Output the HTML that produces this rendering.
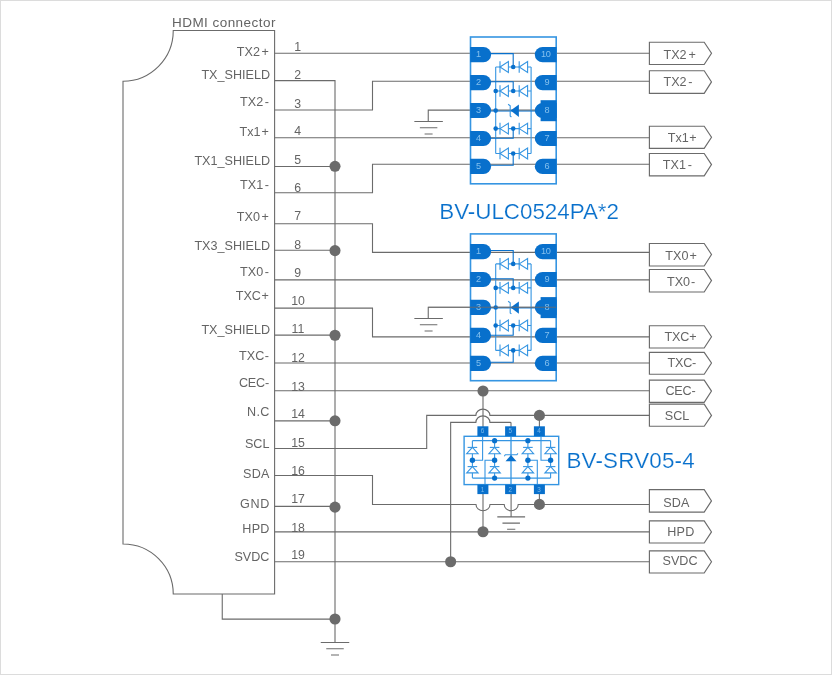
<!DOCTYPE html>
<html><head><meta charset="utf-8"><title>HDMI ESD protection</title>
<style>html,body{margin:0;padding:0;background:#fff}body{width:832px;height:675px;overflow:hidden;position:relative;font-family:"Liberation Sans",sans-serif}</style>
</head><body>
<svg width="832" height="675" viewBox="0 0 832 675" style="will-change:transform;position:absolute;left:0;top:0;font-family:'Liberation Sans',sans-serif">
<rect x="0" y="0" width="832" height="675" fill="#fff"/>
<rect x="0.5" y="0.5" width="831" height="674" fill="none" stroke="#dcdcdc" stroke-width="1"/>
<g fill="none" stroke="#6b6b6b" stroke-width="1.1" stroke-linejoin="miter">
<path d="M173.25,30.5 L274.6,30.5 L274.6,594 L173.25,594 A50.25,50 0 0 0 123,544 L123,81.25 A50.25,50.75 0 0 0 173.25,30.5 Z"/>
<path d="M222.25,594 L222.25,619.1 L335,619.1"/>
<path d="M274.6,80.6 L335,80.6 L335,642.5"/>
<path d="M320.75,642.5 H349.25 M326.25,648.75 H343.75 M331.0,655.0 H339.0"/>
<path d="M274.6,166.45 H335"/>
<path d="M274.6,250.3 H335"/>
<path d="M274.6,335.1 H335"/>
<path d="M274.6,420.9 H335"/>
<path d="M274.6,506.4 H335"/>
<path d="M274.6,53.2 H649.4"/>
<path d="M274.6,110 H372.5 V81.25 H649.4"/>
<path d="M274.6,137.7 H649.4"/>
<path d="M274.6,192.8 H372.5 V164.2 H649.4"/>
<path d="M556,110.1 H428.25 V121.5"/>
<path d="M414.35,121.5 H442.85 M419.85,127.75 H437.35 M424.6,134.0 H432.6"/>
<path d="M274.6,223.75 H372.5 V252.4 H649.4"/>
<path d="M274.6,279.9 H649.4"/>
<path d="M274.6,308.1 H372.5 V336.9 H649.4"/>
<path d="M274.6,363.05 H649.4"/>
<path d="M556,307.2 H428.25 V318.5"/>
<path d="M414.35,318.5 H442.85 M419.85,324.75 H437.35 M424.6,331.0 H432.6"/>
<path d="M274.6,390.8 H649.4"/>
<path d="M483,390.8 V427"/>
<path d="M274.6,448.5 H426.7 V415.35 L475.9,415.35 A7,6.2 0 0 1 489.9,415.35 H649.4"/>
<path d="M539.4,415.35 V427"/>
<path d="M450.65,561.75 V422.35 L475.9,422.35 A7,6.5 0 0 1 489.9,422.35 H510 Q511,422.25 511,423.25 V427"/>
<path d="M274.6,475.5 H372.5 V504.4 L476,504.45 A7,6.3 0 0 0 490,504.45 L504.2,504.45 A7,6.3 0 0 0 518.2,504.45 H649.4"/>
<path d="M539.4,494 V504.4"/>
<path d="M483,494 V531.9"/>
<path d="M511.1,494 V517"/>
<path d="M497.3,516.9 H525.1 M502.45,523.1 H519.95 M507.09999999999997,529.3 H515.3"/>
<path d="M274.6,531.9 H649.4"/>
<path d="M274.6,561.75 H649.4"/>
</g>
<g fill="#6b6b6b">
<circle cx="335" cy="166.3" r="5.55"/>
<circle cx="335" cy="250.6" r="5.55"/>
<circle cx="335" cy="335.25" r="5.55"/>
<circle cx="335" cy="420.8" r="5.55"/>
<circle cx="335" cy="507.1" r="5.55"/>
<circle cx="335" cy="619" r="5.55"/>
<circle cx="483" cy="391" r="5.55"/>
<circle cx="539.4" cy="415.4" r="5.55"/>
<circle cx="539.4" cy="504.4" r="5.55"/>
<circle cx="483" cy="531.75" r="5.55"/>
<circle cx="450.65" cy="561.75" r="5.55"/>
</g>
<g fill="#fff" stroke="#6b6b6b" stroke-width="1.15" stroke-linejoin="miter">
<path d="M649.4,42.25 H704.2 L711.5,53.25 L704.2,64.5 H649.4 Z"/>
<path d="M649.4,70.75 H704.2 L711.5,81.9 L704.2,93.4 H649.4 Z"/>
<path d="M649.4,126.25 H704.2 L711.5,137.25 L704.2,148.4 H649.4 Z"/>
<path d="M649.4,153.5 H704.2 L711.5,164.6 L704.2,175.9 H649.4 Z"/>
<path d="M649.4,243.5 H704.2 L711.5,254.5 L704.2,266 H649.4 Z"/>
<path d="M649.4,269.5 H704.2 L711.5,280.6 L704.2,292 H649.4 Z"/>
<path d="M649.4,325.75 H704.2 L711.5,336.75 L704.2,348 H649.4 Z"/>
<path d="M649.4,352.4 H704.2 L711.5,363 L704.2,374.25 H649.4 Z"/>
<path d="M649.4,380.1 H704.2 L711.5,391.1 L704.2,402.3 H649.4 Z"/>
<path d="M649.4,404.1 H704.2 L711.5,415.4 L704.2,426.25 H649.4 Z"/>
<path d="M649.4,489.6 H704.2 L711.5,500.9 L704.2,512.1 H649.4 Z"/>
<path d="M649.4,520.9 H704.2 L711.5,531.9 L704.2,543 H649.4 Z"/>
<path d="M649.4,550.9 H704.2 L711.5,561.75 L704.2,573 H649.4 Z"/>
</g>
<g fill="#646464" font-size="12.6px">
<text x="663.50" y="59.1">TX2<tspan dx="1.8">+</tspan></text>
<text x="663.50" y="86">TX2<tspan dx="1.6">-</tspan></text>
<text x="667.85" y="142.1">Tx1<tspan dx="0.4">+</tspan></text>
<text x="662.85" y="168.75">TX1<tspan dx="1.7">-</tspan></text>
<text x="665.35" y="260.4">TX0<tspan dx="1.0">+</tspan></text>
<text x="667.00" y="286.4">TX0<tspan dx="1.0">-</tspan></text>
<text x="664.50" y="340.9" letter-spacing="-0.15">TXC+</text>
<text x="667.50" y="367.4" letter-spacing="-0.2">TXC-</text>
<text x="665.40" y="395.25" letter-spacing="-0.2">CEC-</text>
<text x="664.80" y="419.5">SCL</text>
<text x="663.15" y="506.75" letter-spacing="0.2">SDA</text>
<text x="667.20" y="535.5" letter-spacing="0.25">HPD</text>
<text x="662.50" y="565.25">SVDC</text>
</g>
<g fill="#646464" font-size="12.6px" text-anchor="end">
<text x="268.90" y="55.5">TX2<tspan dx="1.6">+</tspan></text>
<text x="270.00" y="78.5">TX_SHIELD</text>
<text x="268.90" y="106.25">TX2<tspan dx="1.5">-</tspan></text>
<text x="268.90" y="135.75">Tx1<tspan dx="1.0">+</tspan></text>
<text x="270.00" y="165">TX1_SHIELD</text>
<text x="268.90" y="189.25">TX1<tspan dx="1.5">-</tspan></text>
<text x="268.90" y="221.25">TX0<tspan dx="1.6">+</tspan></text>
<text x="270.00" y="249.5">TX3_SHIELD</text>
<text x="268.90" y="276.25">TX0<tspan dx="1.5">-</tspan></text>
<text x="268.90" y="300">TXC<tspan dx="0.6">+</tspan></text>
<text x="270.00" y="334.25">TX_SHIELD</text>
<text x="268.90" y="360">TXC<tspan dx="0.4">-</tspan></text>
<text x="268.90" y="387" letter-spacing="-0.2">CEC-</text>
<text x="269.80" y="416.25" letter-spacing="0.4">N.C</text>
<text x="269.40" y="448">SCL</text>
<text x="269.60" y="477.5" letter-spacing="0.2">SDA</text>
<text x="270.10" y="507.5" letter-spacing="0.7">GND</text>
<text x="269.65" y="532.5" letter-spacing="0.25">HPD</text>
<text x="269.40" y="561.25">SVDC</text>
</g>
<g fill="#646464" font-size="12.3px" text-anchor="middle">
<text x="297.6" y="50.75">1</text>
<text x="297.6" y="79">2</text>
<text x="297.6" y="107.9">3</text>
<text x="297.6" y="135.25">4</text>
<text x="297.6" y="163.75">5</text>
<text x="297.6" y="191.5">6</text>
<text x="297.6" y="220">7</text>
<text x="297.6" y="248.75">8</text>
<text x="297.6" y="277.25">9</text>
<text x="298" y="304.75">10</text>
<text x="298" y="333.4">11</text>
<text x="298" y="362.1">12</text>
<text x="298" y="390.5">13</text>
<text x="298" y="418">14</text>
<text x="298" y="446.5">15</text>
<text x="298" y="474.9">16</text>
<text x="298" y="503.25">17</text>
<text x="298" y="531.75">18</text>
<text x="298" y="559.25">19</text>
</g>
<text x="172" y="26.75" fill="#646464" font-size="13.5px" letter-spacing="0.45">HDMI connector</text>
<text x="439.3" y="218.5" fill="#0870cc" stroke="#fff" stroke-width="0.2" font-size="22.4px" letter-spacing="-0.03">BV-ULC0524PA*2</text>
<text x="566.4" y="468.25" fill="#0870cc" stroke="#fff" stroke-width="0.2" font-size="22.4px" letter-spacing="0.2">BV-SRV05-4</text>
<g transform="translate(0,0)">
<rect x="470.5" y="37" width="85.7" height="146.8" fill="none" stroke="#3595e2" stroke-width="1.6"/>
<g fill="none" stroke="#3595e2" stroke-width="1.1">
<path d="M495.7,67 V153.5 M531.1,67 V153.5"/>
<path d="M495.7,67 H531.1" />
<path d="M500,61.2 V72.8" />
<path d="M500,67 L508.4,61.6 V72.4 Z" fill="#fff"/>
<path d="M519.2,61.2 V72.8" />
<path d="M519.2,67 L527.6,61.6 V72.4 Z" fill="#fff"/>
<path d="M495.7,91 H531.1" />
<path d="M500,85.2 V96.8" />
<path d="M500,91 L508.4,85.6 V96.4 Z" fill="#fff"/>
<path d="M519.2,85.2 V96.8" />
<path d="M519.2,91 L527.6,85.6 V96.4 Z" fill="#fff"/>
<path d="M495.7,128.6 H531.1" />
<path d="M500,122.8 V134.4" />
<path d="M500,128.6 L508.4,123.19999999999999 V134.0 Z" fill="#fff"/>
<path d="M519.2,122.8 V134.4" />
<path d="M519.2,128.6 L527.6,123.19999999999999 V134.0 Z" fill="#fff"/>
<path d="M495.7,153.5 H531.1" />
<path d="M500,147.7 V159.3" />
<path d="M500,153.5 L508.4,148.1 V158.9 Z" fill="#fff"/>
<path d="M519.2,147.7 V159.3" />
<path d="M519.2,153.5 L527.6,148.1 V158.9 Z" fill="#fff"/>
<path d="M490,53.6 H513.2 V67" stroke="#0870cc"/>
<path d="M490,81.8 H513.2 V91" stroke="#0870cc"/>
<path d="M490,138.3 H513.2 V128.6" stroke="#0870cc"/>
<path d="M490,165.3 H513.2 V153.5" stroke="#0870cc"/>
<path d="M490,111.1 H540" stroke="#0870cc" stroke-width="0.9"/>
<path d="M508.1,104.3 L510.2,105.8 V116 L511.4,117"/>
</g>
<path d="M510.6,110.6 L518.9,104.6 V116.9 Z" fill="#0870cc"/>
<g fill="#0870cc">
<circle cx="513.2" cy="67" r="2.3"/>
<circle cx="513.2" cy="91" r="2.3"/>
<circle cx="513.2" cy="128.6" r="2.3"/>
<circle cx="513.2" cy="153.5" r="2.3"/>
<circle cx="495.7" cy="91" r="2.3"/>
<circle cx="495.7" cy="110.6" r="2.3"/>
<circle cx="495.7" cy="128.6" r="2.3"/>
</g>
<g fill="#0870cc">
<path d="M470.2,47.1 H483.4 A7.7,7.6 0 0 1 483.4,62.300000000000004 H470.2 Z"/>
<path d="M470.2,75.0 H483.4 A7.7,7.6 0 0 1 483.4,90.19999999999999 H470.2 Z"/>
<path d="M470.2,102.9 H483.4 A7.7,7.6 0 0 1 483.4,118.1 H470.2 Z"/>
<path d="M470.2,130.9 H483.4 A7.7,7.6 0 0 1 483.4,146.1 H470.2 Z"/>
<path d="M470.2,158.8 H483.4 A7.7,7.6 0 0 1 483.4,174.0 H470.2 Z"/>
<path d="M556.6,47.1 H542.6 A7.8,7.6 0 0 0 542.6,62.300000000000004 H556.6 Z"/>
<path d="M556.6,75.0 H542.6 A7.8,7.6 0 0 0 542.6,90.19999999999999 H556.6 Z"/>
<path d="M556.6,102.9 H542.6 A7.8,7.6 0 0 0 542.6,118.1 H556.6 Z"/>
<path d="M556.6,130.9 H542.6 A7.8,7.6 0 0 0 542.6,146.1 H556.6 Z"/>
<path d="M556.6,158.8 H542.6 A7.8,7.6 0 0 0 542.6,174.0 H556.6 Z"/>
<rect x="540.6" y="100.2" width="16" height="21"/>
</g>
<g fill="#84c0ee" font-size="9.2px" text-anchor="middle">
<text x="478.6" y="57.2">1</text>
<text x="545.8" y="57.2" letter-spacing="-0.4">10</text>
<text x="478.6" y="85.1">2</text>
<text x="547" y="85.1" >9</text>
<text x="478.6" y="113.0">3</text>
<text x="547" y="113.0" >8</text>
<text x="478.6" y="141.0">4</text>
<text x="547" y="141.0" >7</text>
<text x="478.6" y="168.9">5</text>
<text x="547" y="168.9" >6</text>
</g>
</g>
<g transform="translate(0,196.9)">
<rect x="470.5" y="37" width="85.7" height="146.8" fill="none" stroke="#3595e2" stroke-width="1.6"/>
<g fill="none" stroke="#3595e2" stroke-width="1.1">
<path d="M495.7,67 V153.5 M531.1,67 V153.5"/>
<path d="M495.7,67 H531.1" />
<path d="M500,61.2 V72.8" />
<path d="M500,67 L508.4,61.6 V72.4 Z" fill="#fff"/>
<path d="M519.2,61.2 V72.8" />
<path d="M519.2,67 L527.6,61.6 V72.4 Z" fill="#fff"/>
<path d="M495.7,91 H531.1" />
<path d="M500,85.2 V96.8" />
<path d="M500,91 L508.4,85.6 V96.4 Z" fill="#fff"/>
<path d="M519.2,85.2 V96.8" />
<path d="M519.2,91 L527.6,85.6 V96.4 Z" fill="#fff"/>
<path d="M495.7,128.6 H531.1" />
<path d="M500,122.8 V134.4" />
<path d="M500,128.6 L508.4,123.19999999999999 V134.0 Z" fill="#fff"/>
<path d="M519.2,122.8 V134.4" />
<path d="M519.2,128.6 L527.6,123.19999999999999 V134.0 Z" fill="#fff"/>
<path d="M495.7,153.5 H531.1" />
<path d="M500,147.7 V159.3" />
<path d="M500,153.5 L508.4,148.1 V158.9 Z" fill="#fff"/>
<path d="M519.2,147.7 V159.3" />
<path d="M519.2,153.5 L527.6,148.1 V158.9 Z" fill="#fff"/>
<path d="M490,53.6 H513.2 V67" stroke="#0870cc"/>
<path d="M490,81.8 H513.2 V91" stroke="#0870cc"/>
<path d="M490,138.3 H513.2 V128.6" stroke="#0870cc"/>
<path d="M490,165.3 H513.2 V153.5" stroke="#0870cc"/>
<path d="M490,111.1 H540" stroke="#0870cc" stroke-width="0.9"/>
<path d="M508.1,104.3 L510.2,105.8 V116 L511.4,117"/>
</g>
<path d="M510.6,110.6 L518.9,104.6 V116.9 Z" fill="#0870cc"/>
<g fill="#0870cc">
<circle cx="513.2" cy="67" r="2.3"/>
<circle cx="513.2" cy="91" r="2.3"/>
<circle cx="513.2" cy="128.6" r="2.3"/>
<circle cx="513.2" cy="153.5" r="2.3"/>
<circle cx="495.7" cy="91" r="2.3"/>
<circle cx="495.7" cy="110.6" r="2.3"/>
<circle cx="495.7" cy="128.6" r="2.3"/>
</g>
<g fill="#0870cc">
<path d="M470.2,47.1 H483.4 A7.7,7.6 0 0 1 483.4,62.300000000000004 H470.2 Z"/>
<path d="M470.2,75.0 H483.4 A7.7,7.6 0 0 1 483.4,90.19999999999999 H470.2 Z"/>
<path d="M470.2,102.9 H483.4 A7.7,7.6 0 0 1 483.4,118.1 H470.2 Z"/>
<path d="M470.2,130.9 H483.4 A7.7,7.6 0 0 1 483.4,146.1 H470.2 Z"/>
<path d="M470.2,158.8 H483.4 A7.7,7.6 0 0 1 483.4,174.0 H470.2 Z"/>
<path d="M556.6,47.1 H542.6 A7.8,7.6 0 0 0 542.6,62.300000000000004 H556.6 Z"/>
<path d="M556.6,75.0 H542.6 A7.8,7.6 0 0 0 542.6,90.19999999999999 H556.6 Z"/>
<path d="M556.6,102.9 H542.6 A7.8,7.6 0 0 0 542.6,118.1 H556.6 Z"/>
<path d="M556.6,130.9 H542.6 A7.8,7.6 0 0 0 542.6,146.1 H556.6 Z"/>
<path d="M556.6,158.8 H542.6 A7.8,7.6 0 0 0 542.6,174.0 H556.6 Z"/>
<rect x="540.6" y="100.2" width="16" height="21"/>
</g>
<g fill="#84c0ee" font-size="9.2px" text-anchor="middle">
<text x="478.6" y="57.2">1</text>
<text x="545.8" y="57.2" letter-spacing="-0.4">10</text>
<text x="478.6" y="85.1">2</text>
<text x="547" y="85.1" >9</text>
<text x="478.6" y="113.0">3</text>
<text x="547" y="113.0" >8</text>
<text x="478.6" y="141.0">4</text>
<text x="547" y="141.0" >7</text>
<text x="478.6" y="168.9">5</text>
<text x="547" y="168.9" >6</text>
</g>
</g>
<path d="M428.25,307.2 H556" stroke="#6b6b6b" stroke-width="1.1" opacity="0.85"/>
<g>
<rect x="464.1" y="436.3" width="94.6" height="48.3" fill="none" stroke="#3595e2" stroke-width="1.4"/>
<g fill="none" stroke="#3595e2" stroke-width="1.1">
<path d="M472.4,440.7 H550.6 M472.4,478.1 H550.6" stroke-width="1.3"/>
<path d="M472.4,440.7 V478.1"/>
<path d="M467.59999999999997,447.4 H477.2"/>
<path d="M472.4,447.4 L478.09999999999997,453.7 H466.7 Z" fill="#fff"/>
<path d="M467.59999999999997,466.6 H477.2"/>
<path d="M472.4,466.6 L478.09999999999997,472.90000000000003 H466.7 Z" fill="#fff"/>
<path d="M494.6,440.7 V478.1"/>
<path d="M489.8,447.4 H499.40000000000003"/>
<path d="M494.6,447.4 L500.3,453.7 H488.90000000000003 Z" fill="#fff"/>
<path d="M489.8,466.6 H499.40000000000003"/>
<path d="M494.6,466.6 L500.3,472.90000000000003 H488.90000000000003 Z" fill="#fff"/>
<path d="M527.9,440.7 V478.1"/>
<path d="M523.1,447.4 H532.6999999999999"/>
<path d="M527.9,447.4 L533.6,453.7 H522.1999999999999 Z" fill="#fff"/>
<path d="M523.1,466.6 H532.6999999999999"/>
<path d="M527.9,466.6 L533.6,472.90000000000003 H522.1999999999999 Z" fill="#fff"/>
<path d="M550.6,440.7 V478.1"/>
<path d="M545.8000000000001,447.4 H555.4"/>
<path d="M550.6,447.4 L556.3000000000001,453.7 H544.9 Z" fill="#fff"/>
<path d="M545.8000000000001,466.6 H555.4"/>
<path d="M550.6,466.6 L556.3000000000001,472.90000000000003 H544.9 Z" fill="#fff"/>
<path d="M482.6,436 V460.25 H472.4"/>
<path d="M485,484.6 V460.25 H494.6"/>
<path d="M541,436 V460.25 H550.6"/>
<path d="M537.3,484.6 V460.25 H527.9"/>
<path d="M511,436 V484.6" stroke-width="1.3"/>
<path d="M504.3,456.3 L505.3,454.8 H516.9 L517.9,453.4"/>
</g>
<path d="M511,455 L516.5,461.3 H505.5 Z" fill="#0870cc"/>
<g fill="#0870cc">
<circle cx="472.4" cy="460.25" r="2.7"/>
<circle cx="494.6" cy="460.25" r="2.7"/>
<circle cx="527.9" cy="460.25" r="2.7"/>
<circle cx="550.6" cy="460.25" r="2.7"/>
<circle cx="494.6" cy="440.7" r="2.6"/>
<circle cx="494.6" cy="478.1" r="2.6"/>
<circle cx="527.9" cy="440.7" r="2.6"/>
<circle cx="527.9" cy="478.1" r="2.6"/>
<rect x="477.4" y="426.3" width="11" height="10"/>
<rect x="477.4" y="484.6" width="11" height="9.5"/>
<rect x="505.1" y="426.3" width="11" height="10"/>
<rect x="505.1" y="484.6" width="11" height="9.5"/>
<rect x="533.9" y="426.3" width="11" height="10"/>
<rect x="533.9" y="484.6" width="11" height="9.5"/>
</g>
<g fill="#84c0ee" font-size="6.3px" text-anchor="middle" opacity="0.9">
<text x="482.6" y="433.3">6</text>
<text x="482.6" y="491.6">1</text>
<text x="510.3" y="433.3">5</text>
<text x="510.3" y="491.6">2</text>
<text x="539.1" y="433.3">4</text>
<text x="539.1" y="491.6">3</text>
</g>
</g>
</svg>
</body></html>
